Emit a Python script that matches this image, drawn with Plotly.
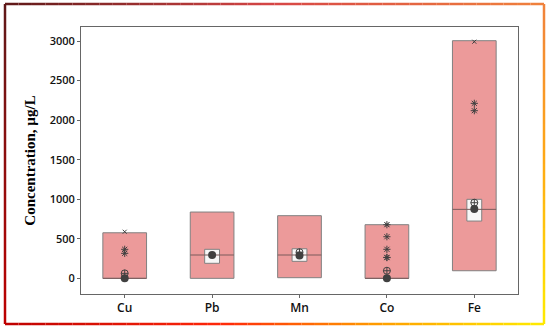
import plotly.graph_objects as go

# ---------------- data ----------------
categories = ["Cu", "Pb", "Mn", "Co", "Fe"]
range_min = [0, 0, 8, 0, 96]
range_max = [576, 838, 792, 678, 3004]
median = [0, 295, 295, 0, 872]
ci_low = [None, 190, 215, None, 724]
ci_high = [None, 367, 374, None, 999]
mean_val = [0, 294, 290, 0, 876]
plus_val = [63, None, 330, 96, 956]
# asterisk outliers per category
outliers = {
    "Cu": [367, 316],
    "Co": [678, 526, 367, 265, 262],
    "Fe": [2212, 2119],
}
# maximum (x) markers
max_marks = {"Cu": 589, "Co": 680, "Fe": 2991}
yticks = [0, 500, 1000, 1500, 2000, 2500, 3000]

# ---------------- style ----------------
FILL = "#EC9A9A"
EDGE = "#808080"
MARK = "#404040"

idx = list(range(len(categories)))
fig = go.Figure()

# range boxes
fig.add_trace(go.Bar(
    x=idx, y=[hi - lo for hi, lo in zip(range_max, range_min)], base=range_min,
    width=0.5, marker=dict(color=FILL, line=dict(color=EDGE, width=1)),
    hoverinfo="skip", showlegend=False))

# median lines
mx, my = [], []
for i, m in zip(idx, median):
    if m is None:
        continue
    mx += [i - 0.25, i + 0.25, None]
    my += [m, m, None]
fig.add_trace(go.Scatter(x=mx, y=my, mode="lines",
                         line=dict(color="#7a5a5a", width=1),
                         hoverinfo="skip", showlegend=False))

# CI boxes
ci_x = [i for i, lo in zip(idx, ci_low) if lo is not None]
ci_b = [lo for lo in ci_low if lo is not None]
ci_h = [hi - lo for hi, lo in zip(ci_high, ci_low) if lo is not None]
fig.add_trace(go.Bar(
    x=ci_x, y=ci_h, base=ci_b, width=0.17,
    marker=dict(color="#F7F7F7", line=dict(color=EDGE, width=1)),
    hoverinfo="skip", showlegend=False))

# plus markers
px = [i for i, v in zip(idx, plus_val) if v is not None]
py = [v for v in plus_val if v is not None]
fig.add_trace(go.Scatter(x=px, y=py, mode="markers",
                         marker=dict(symbol="circle-cross-open", size=7,
                                     color=MARK, line=dict(width=1)),
                         hoverinfo="skip", showlegend=False))

# mean markers
fig.add_trace(go.Scatter(x=idx, y=mean_val, mode="markers",
                         marker=dict(symbol="circle", size=8, color=MARK),
                         hoverinfo="skip", showlegend=False))

# outliers
ox, oy = [], []
for c, vals in outliers.items():
    for v in vals:
        ox.append(categories.index(c))
        oy.append(v)
fig.add_trace(go.Scatter(x=ox, y=oy, mode="markers",
                         marker=dict(symbol="asterisk-open", size=6,
                                     color=MARK, line=dict(width=1, color=MARK)),
                         hoverinfo="skip", showlegend=False))

# max markers
fig.add_trace(go.Scatter(x=[categories.index(c) for c in max_marks],
                         y=list(max_marks.values()), mode="markers",
                         marker=dict(symbol="x-thin-open", size=4,
                                     color=MARK, line=dict(width=1, color=MARK)),
                         hoverinfo="skip", showlegend=False))

# ---------------- gradient border ----------------
def lerp_stops(stops, t):
    for (t0, c0), (t1, c1) in zip(stops[:-1], stops[1:]):
        if t <= t1:
            f = (t - t0) / (t1 - t0) if t1 > t0 else 0
            return "rgb(%d,%d,%d)" % tuple(round(a + (b - a) * f) for a, b in zip(c0, c1))
    c = stops[-1][1]
    return "rgb(%d,%d,%d)" % c

W, H = 550, 330
L, R, T, B = 5, 544, 4, 324
edges = [
    ((L, T), (R, T), [(0, (95, 25, 25)), (0.5, (215, 70, 70)), (1, (240, 130, 60))]),
    ((L, B), (R, B), [(0, (190, 0, 0)), (0.4, (255, 40, 10)), (0.7, (255, 160, 0)), (1, (255, 235, 0))]),
    ((L, T), (L, B), [(0, (95, 25, 25)), (1, (190, 0, 0))]),
    ((R, T), (R, B), [(0, (240, 130, 60)), (0.5, (255, 170, 20)), (1, (255, 235, 0))]),
]
shapes = []
N = 40
for (x0, y0), (x1, y1), stops in edges:
    for k in range(N):
        a, b = k / N, (k + 1) / N
        shapes.append(dict(
            type="line", xref="paper", yref="paper", layer="above",
            x0=(x0 + (x1 - x0) * a - 81) / (518 - 81),
            x1=(x0 + (x1 - x0) * b - 81) / (518 - 81),
            y0=(H - (y0 + (y1 - y0) * a) - 36) / (294 - 27),
            y1=(H - (y0 + (y1 - y0) * b) - 36) / (294 - 27),
            line=dict(color=lerp_stops(stops, (a + b) / 2), width=2.5)))

fig.update_layout(
    width=W, height=H,
    margin=dict(l=81, r=32, t=27, b=36),
    paper_bgcolor="white", plot_bgcolor="white",
    barmode="overlay", showlegend=False,
    shapes=shapes,
    font=dict(family="Open Sans", color="#1a1a1a"),
)
fig.update_xaxes(
    range=[-0.5, 4.5], tickvals=idx, ticktext=categories,
    showgrid=False, zeroline=False, showline=True, mirror=True,
    linecolor="#666", linewidth=1, ticks="outside", ticklen=3, tickcolor="#666",
    tickfont=dict(family="Open Sans", size=12, color="#111", weight=600),
)
fig.update_yaxes(
    range=[-198, 3177], tickvals=yticks,
    showgrid=False, zeroline=False, showline=True, mirror=True,
    linecolor="#666", linewidth=1, ticks="outside", ticklen=3, tickcolor="#666",
    tickfont=dict(family="Open Sans", size=11, color="#111", weight=600),
    title=dict(text="Concentration, µg/L", standoff=10,
               font=dict(family="Liberation Serif", size=15, color="#000", weight="bold")),
)

fig.write_html("out.html", config={"displayModeBar": False},
               post_script="document.body.style.margin='0';document.body.style.overflow='hidden';")
